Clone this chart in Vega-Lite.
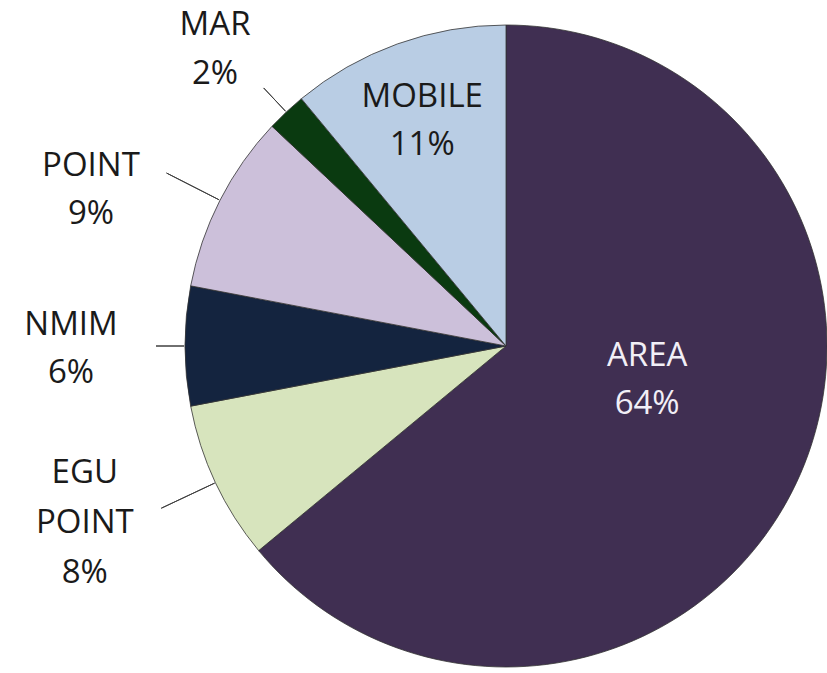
{
  "$schema": "https://vega.github.io/schema/vega-lite/v6.json",
  "autosize": {"type": "none"},
  "width": 642,
  "height": 642,
  "padding": {"left": 185, "top": 25, "right": 0, "bottom": 6},
  "background": "white",
  "config": {"view": {"stroke": null}},
  "data": {
    "values": [
      {"source": "AREA", "share": 64, "rank": 1, "label": "AREA\n64%"},
      {"source": "EGU POINT", "share": 8, "rank": 2, "label": "EGU\nPOINT\n8%"},
      {"source": "NMIM", "share": 6, "rank": 3, "label": "NMIM\n6%"},
      {"source": "POINT", "share": 9, "rank": 4, "label": "POINT\n9%"},
      {"source": "MAR", "share": 2, "rank": 5, "label": "MAR\n2%"},
      {"source": "MOBILE", "share": 11, "rank": 6, "label": "MOBILE\n11%"}
    ]
  },
  "encoding": {
    "theta": {"field": "share", "type": "quantitative", "stack": true},
    "order": {"field": "rank", "type": "quantitative"}
  },
  "layer": [
    {
      "mark": {"type": "arc", "stroke": "#333333", "strokeWidth": 0.8},
      "encoding": {
        "color": {
          "field": "source",
          "type": "nominal",
          "legend": null,
          "scale": {
            "domain": ["AREA", "EGU POINT", "NMIM", "POINT", "MAR", "MOBILE"],
            "range": ["#402f52", "#d7e4bd", "#14243f", "#ccc0da", "#0a3a10", "#b9cde4"]
          }
        }
      }
    },
    {
      "mark": {"type": "arc", "radius": 354, "radius2": 322, "padAngle": 3, "fill": null, "stroke": "#404040", "strokeWidth": 1},
      "encoding": {
        "strokeOpacity": {"condition": {"test": "datum.source === 'MAR'", "value": 1}, "value": 0}
      }
    },
    {
      "mark": {"type": "arc", "radius": 381, "radius2": 322, "padAngle": 3, "fill": null, "stroke": "#404040", "strokeWidth": 1},
      "encoding": {
        "strokeOpacity": {"condition": {"test": "datum.source === 'POINT' || datum.source === 'EGU POINT'", "value": 1}, "value": 0}
      }
    },
    {
      "mark": {"type": "arc", "radius": 350, "radius2": 322, "padAngle": 3, "fill": null, "stroke": "#404040", "strokeWidth": 1},
      "encoding": {
        "strokeOpacity": {"condition": {"test": "datum.source === 'NMIM'", "value": 1}, "value": 0}
      }
    },
    {
      "mark": {"type": "text", "radius": 156, "dy": -56, "font": "Open Sans", "fontSize": 33, "lineHeight": 48, "lineBreak": "\n", "align": "center", "baseline": "middle", "fill": "#f2eff7"},
      "encoding": {
        "text": {"field": "label", "type": "nominal"},
        "opacity": {"condition": {"test": "datum.source === 'AREA'", "value": 1}, "value": 0}
      }
    },
    {
      "mark": {"type": "text", "radius": 265, "dx": 6, "font": "Open Sans", "fontSize": 33, "lineHeight": 48, "lineBreak": "\n", "align": "center", "baseline": "middle", "fill": "#1a1a1a"},
      "encoding": {
        "text": {"field": "label", "type": "nominal"},
        "opacity": {"condition": {"test": "datum.source === 'MOBILE'", "value": 1}, "value": 0}
      }
    },
    {
      "mark": {"type": "text", "radius": 406, "dx": -13, "dy": -25, "font": "Open Sans", "fontSize": 33, "lineHeight": 49, "lineBreak": "\n", "align": "center", "baseline": "middle", "fill": "#1a1a1a"},
      "encoding": {
        "text": {"field": "label", "type": "nominal"},
        "opacity": {"condition": {"test": "datum.source === 'MAR'", "value": 1}, "value": 0}
      }
    },
    {
      "mark": {"type": "text", "radius": 440, "dx": -23, "dy": 20, "font": "Open Sans", "fontSize": 33, "lineHeight": 48, "lineBreak": "\n", "align": "center", "baseline": "middle", "fill": "#1a1a1a"},
      "encoding": {
        "text": {"field": "label", "type": "nominal"},
        "opacity": {"condition": {"test": "datum.source === 'POINT'", "value": 1}, "value": 0}
      }
    },
    {
      "mark": {"type": "text", "radius": 435, "dy": -21, "font": "Open Sans", "fontSize": 33, "lineHeight": 48, "lineBreak": "\n", "align": "center", "baseline": "middle", "fill": "#1a1a1a"},
      "encoding": {
        "text": {"field": "label", "type": "nominal"},
        "opacity": {"condition": {"test": "datum.source === 'NMIM'", "value": 1}, "value": 0}
      }
    },
    {
      "mark": {"type": "text", "radius": 460, "dx": -5, "dy": -69, "font": "Open Sans", "fontSize": 33, "lineHeight": 50, "lineBreak": "\n", "align": "center", "baseline": "middle", "fill": "#1a1a1a"},
      "encoding": {
        "text": {"field": "label", "type": "nominal"},
        "opacity": {"condition": {"test": "datum.source === 'EGU POINT'", "value": 1}, "value": 0}
      }
    }
  ]
}
